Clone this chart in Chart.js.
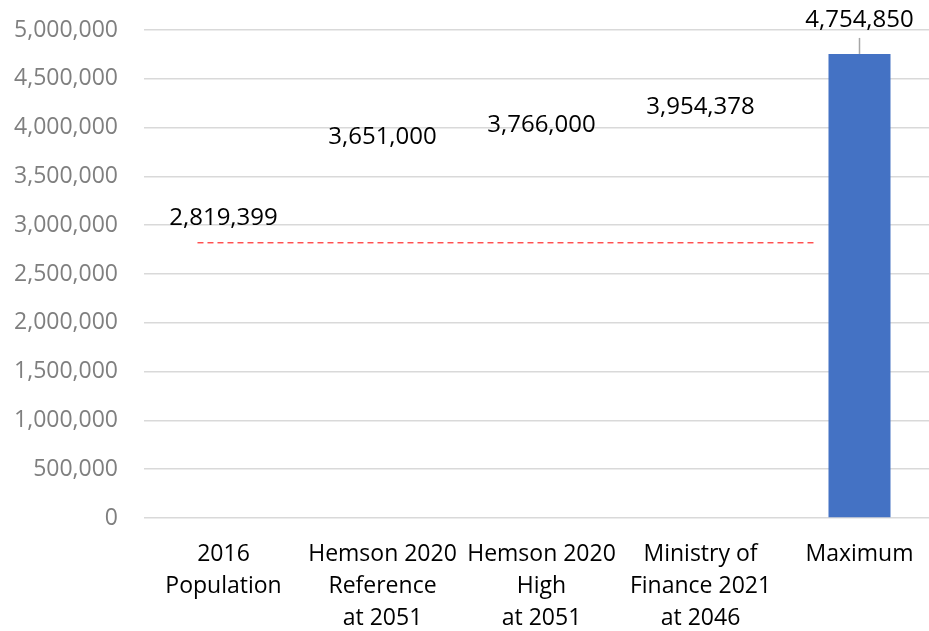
<!DOCTYPE html>
<html>
<head>
<meta charset="utf-8">
<script src="https://cdn.jsdelivr.net/npm/chart.js@4/dist/chart.umd.min.js"></script>
<style>
  html, body { margin: 0; padding: 0; background: #fff; overflow: hidden; }
  #wrap { width: 940px; height: 631px; position: relative; }
</style>
</head>
<body>
<div id="wrap"><canvas id="popChart"></canvas></div>
<script>
const categories = [
  ['2016', 'Population'],
  ['Hemson 2020', 'Reference', 'at 2051'],
  ['Hemson 2020', 'High', 'at 2051'],
  ['Ministry of', 'Finance 2021', 'at 2046'],
  ['Maximum']
];
const populationValues = [2819399, 3651000, 3766000, 3954378, 4754850];
// only the last column is drawn as a filled bar, the rest just carry labels
const barColors = ['rgba(0,0,0,0)', 'rgba(0,0,0,0)', 'rgba(0,0,0,0)', 'rgba(0,0,0,0)', '#4472C4'];

// 2016 reference line, spanning category index units on a hidden linear axis
const baselineValue = 2819399;
const baselineRange = [-0.38, 3.9];

const yTicks = { min: 0, max: 5000000, step: 500000 };

const fontFamily = "'Open Sans', 'Liberation Sans', sans-serif";
const fontSize = 23;

const fmt = v => Number(v).toLocaleString('en-US');

// value labels above each column, the tallest one pushed up with a leader line
const valueLabels = {
  id: 'valueLabels',
  afterDatasetsDraw(chart, args, opts) {
    const meta = chart.getDatasetMeta(0);
    const ctx = chart.ctx;
    ctx.save();
    ctx.font = '24px ' + fontFamily;
    ctx.fillStyle = '#000';
    ctx.textAlign = 'center';
    ctx.textBaseline = 'middle';
    meta.data.forEach((bar, i) => {
      const value = chart.data.datasets[0].data[i];
      let y = bar.y - 25;
      if (i === opts.leaderIndex) {
        y = bar.y - 34;
        ctx.strokeStyle = '#a6a6a6';
        ctx.lineWidth = 1.5;
        ctx.beginPath();
        ctx.moveTo(bar.x, bar.y - 16);
        ctx.lineTo(bar.x, bar.y);
        ctx.stroke();
      }
      ctx.fillText(fmt(value), bar.x, y);
    });
    ctx.restore();
  }
};

new Chart(document.getElementById('popChart'), {
  type: 'bar',
  data: {
    labels: categories,
    datasets: [
      {
        type: 'bar',
        data: populationValues,
        backgroundColor: barColors,
        borderWidth: 0,
        grouped: false,
        categoryPercentage: 1,
        barPercentage: 0.39,
        order: 1
      },
      {
        type: 'line',
        xAxisID: 'xLine',
        data: baselineRange.map(x => ({ x: x, y: baselineValue })),
        borderColor: '#ff0000',
        borderWidth: 1,
        borderDash: [6, 4],
        pointRadius: 0,
        fill: false,
        order: 0
      }
    ]
  },
  options: {
    responsive: true,
    maintainAspectRatio: false,
    animation: false,
    layout: { padding: { top: 30, left: 0, right: 1, bottom: 0 } },
    plugins: {
      legend: { display: false },
      tooltip: { enabled: false },
      valueLabels: { leaderIndex: 4 }
    },
    scales: {
      x: {
        grid: { display: false, drawTicks: false },
        border: { display: false },
        ticks: {
          color: '#000',
          font: { family: fontFamily, size: fontSize, lineHeight: 1.4 },
          padding: 20,
          autoSkip: false,
          maxRotation: 0,
          minRotation: 0
        },
        afterFit(scale) { scale.height = 113; }
      },
      xLine: {
        type: 'linear',
        display: false,
        min: -0.5,
        max: 4.5
      },
      y: {
        min: yTicks.min,
        max: yTicks.max,
        grid: { color: '#d9d9d9', lineWidth: 1.5, drawTicks: true, tickLength: 18, tickColor: 'rgba(0,0,0,0)' },
        border: { display: false },
        ticks: {
          stepSize: yTicks.step,
          color: '#7f7f7f',
          font: { family: fontFamily, size: fontSize },
          padding: 8,
          callback: v => fmt(v)
        },
        afterFit(scale) { scale.width = 144; }
      }
    }
  },
  plugins: [valueLabels]
});
</script>
</body>
</html>
